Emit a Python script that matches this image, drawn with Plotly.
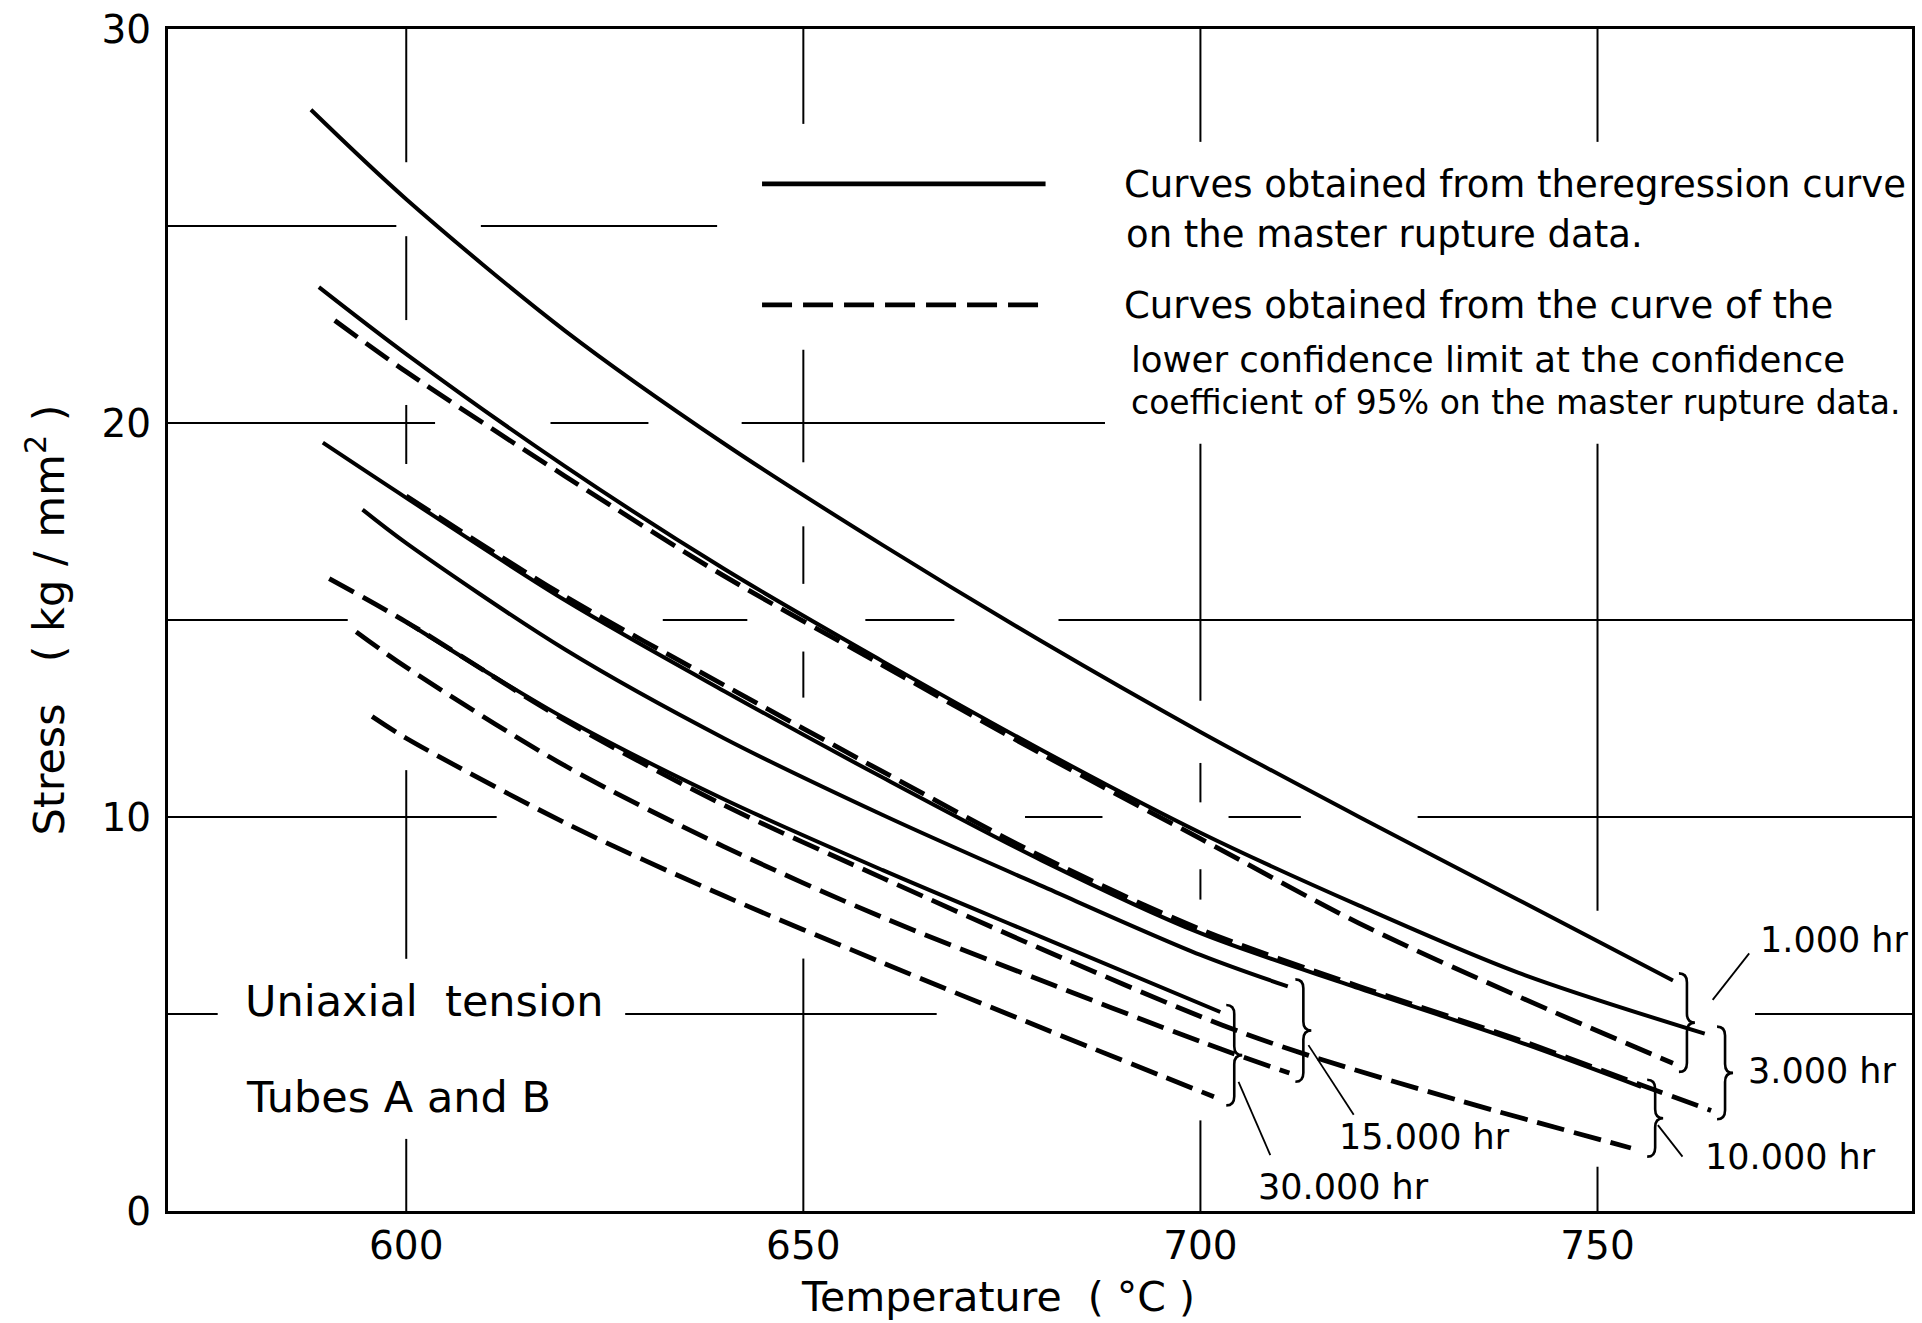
import math
import plotly.graph_objects as go

# Creep-rupture design curves, uniaxial tension, tubes A and B.
# Temperature in degC, stress in kg/mm2.

# Curves from the regression curve on the master rupture data (solid)
T_REG_1000 = [588.0, 600, 620, 640, 660, 680, 700, 720, 740, 759.5]
S_REG_1000 = [27.95, 25.68, 22.34, 19.48, 16.9, 14.46, 12.16, 10.0, 7.9, 5.85]
T_REG_3000 = [589.0, 600, 620, 640, 660, 680, 700, 720, 740, 763.5]
S_REG_3000 = [23.45, 21.75, 18.9, 16.3, 13.95, 11.7, 9.6, 7.75, 6.05, 4.5]
T_REG_10000 = [589.5, 600, 620, 640, 660, 680, 700, 720, 740, 755.5]
S_REG_10000 = [19.5, 18.1, 15.5, 13.2, 11.0, 8.9, 7.05, 5.65, 4.3, 3.15]
T_REG_15000 = [594.5, 600, 620, 640, 660, 680, 700, 711.0]
S_REG_15000 = [17.8, 16.95, 14.25, 12.0, 10.05, 8.25, 6.5, 5.7]
T_REG_30000 = [600.0, 620, 640, 660, 680, 702.5]
S_REG_30000 = [14.95, 12.5, 10.45, 8.65, 6.95, 5.05]

# Curves from the 95 % lower confidence limit (dashed)
T_LCL_1000 = [591.0, 600, 620, 640, 660, 680, 700, 720, 740, 759.5]
S_LCL_1000 = [22.6, 21.3, 18.65, 16.12, 13.85, 11.6, 9.45, 7.3, 5.45, 3.75]
T_LCL_3000 = [600.0, 620, 640, 660, 680, 700, 720, 740, 755.5, 764.3]
S_LCL_3000 = [18.15, 15.6, 13.35, 11.15, 9.0, 7.15, 5.7, 4.35, 3.2, 2.55]
T_LCL_10000 = [590.3, 600, 620, 640, 660, 680, 702.7, 713.6, 733, 754.2]
S_LCL_10000 = [16.05, 14.95, 12.45, 10.3, 8.45, 6.65, 4.72, 3.95, 2.78, 1.6]
T_LCL_15000 = [593.7, 600, 620, 640, 660, 680, 700, 711.2]
S_LCL_15000 = [14.7, 13.8, 11.3, 9.25, 7.45, 5.85, 4.3, 3.5]
T_LCL_30000 = [595.7, 600, 620, 640, 660, 680, 701.7]
S_LCL_30000 = [12.55, 12.0, 9.85, 8.0, 6.3, 4.65, 2.9]

HOUR_LABELS = ["1.000 hr", "3.000 hr", "10.000 hr", "15.000 hr", "30.000 hr"]
X_TICKS = [600, 650, 700, 750]
Y_TICKS = [0, 10, 20, 30]
X_GRID = [600, 650, 700, 750]
Y_GRID = [5, 10, 15, 20, 25]
X_RANGE = [570.0, 789.6]
Y_RANGE = [0.0, 30.0]

X_TITLE = "Temperature\u00a0\u00a0(\u00a0\u00b0C\u00a0)"
Y_TITLE = "Stress\u00a0\u00a0\u00a0(\u00a0kg\u00a0/\u00a0mm<sup>2</sup>\u00a0)"
LEGEND_TEXT = [
    "Curves obtained from theregression curve",
    "on the master rupture data.",
    "Curves obtained from the curve of the",
    "lower confidence limit at the confidence",
    "coefficient of 95% on the master rupture data.",
]
NOTE_TEXT = ["Uniaxial\u00a0\u00a0tension", "Tubes A and B"]

# ---------------------------------------------------------------- geometry
W, H = 1922, 1323
MARGIN = dict(l=168, r=7, t=28, b=112, pad=0)
SX = (W - MARGIN["l"] - MARGIN["r"]) / (X_RANGE[1] - X_RANGE[0])
SY = (H - MARGIN["t"] - MARGIN["b"]) / (Y_RANGE[1] - Y_RANGE[0])


def dx(px):
    return px / SX


def dy(px):
    return px / SY


FONT = "DejaVu Sans, Liberation Sans, Arial, sans-serif"
INK = "black"

# placement of the hand-lettered items (data coordinates)
LEGEND_SAMPLE_X = (644.8, 680.5)
LEGEND_SAMPLE_Y = (26.07, 23.0)
LEGEND_LINE_POS = [(690.1, 26.05, 37), (690.4, 24.78, 37), (690.1, 22.98, 37),
                   (691.0, 21.62, 35.5), (691.0, 20.52, 33)]
NOTE_POS = [(579.4, 5.33, 43), (579.6, 2.9, 43)]
HOUR_LABEL_POS = [(770.2, 6.87), (768.7, 3.55), (763.3, 1.37), (717.2, 1.88), (707.0, 0.61)]
HOUR_LABEL_SIZE = 35
LEADERS = [((764.5, 5.36), (769.1, 6.54)), None, ((757.6, 2.18), (760.7, 1.38)),
           ((713.6, 4.21), (719.3, 2.44)), ((704.8, 3.28), (708.8, 1.42))]

GROUPS = [
    (T_REG_1000, S_REG_1000, T_LCL_1000, S_LCL_1000),
    (T_REG_3000, S_REG_3000, T_LCL_3000, S_LCL_3000),
    (T_REG_10000, S_REG_10000, T_LCL_10000, S_LCL_10000),
    (T_REG_15000, S_REG_15000, T_LCL_15000, S_LCL_15000),
    (T_REG_30000, S_REG_30000, T_LCL_30000, S_LCL_30000),
]

SOLID = dict(color=INK, width=4.0, shape="spline", smoothing=0.9)
DASHED = dict(color=INK, width=4.8, dash="28px,10px", shape="spline", smoothing=0.9)

fig = go.Figure()
for t, s, _, _ in GROUPS:
    fig.add_trace(go.Scatter(x=t, y=s, mode="lines", line=SOLID, hoverinfo="skip",
                             showlegend=False))
for _, _, t, s in GROUPS:
    fig.add_trace(go.Scatter(x=t, y=s, mode="lines", line=DASHED, hoverinfo="skip",
                             showlegend=False))

shapes = []
annotations = []
rects = []          # regions the grid is kept clear of
leader_lines = []


def text_rect(x_left, y_mid, text, size, mx=24, my=18, wf=0.52):
    w = wf * size * len(text)
    h = 0.8 * size
    return (x_left - dx(mx), x_left + dx(w + mx), y_mid - dy(h / 2 + my), y_mid + dy(h / 2 + my))


# ---------------------------------------------------------------- braces, labels
B_GAP, B_HOOK, B_TIP, B_CURL = 14, 8, 8, 9
for (tr, sr, tl, sl), label, (lx, ly), leader in zip(GROUPS, HOUR_LABELS, HOUR_LABEL_POS, LEADERS):
    x0 = max(tr[-1], tl[-1]) + dx(B_GAP)
    ytop = max(sr[-1], sl[-1]) + 0.18
    ybot = min(sr[-1], sl[-1]) - 0.22
    ym = (ytop + ybot) / 2
    a, b, c = dx(B_HOOK), dx(B_TIP), dy(B_CURL)
    path = (f"M {x0 - a},{ytop} Q {x0},{ytop} {x0},{ytop - c} L {x0},{ym + c} "
            f"Q {x0},{ym} {x0 + b},{ym} Q {x0},{ym} {x0},{ym - c} "
            f"L {x0},{ybot + c} Q {x0},{ybot} {x0 - a},{ybot}")
    shapes.append(dict(type="path", xref="x", yref="y", path=path,
                       line=dict(color=INK, width=2.6)))
    brace_box = (x0 - a - dx(22), x0 + b + dx(22), ybot - dy(22), ytop + dy(22))
    label_box = text_rect(lx, ly, label, HOUR_LABEL_SIZE)
    rects += [brace_box, label_box]
    if label_box[3] < brace_box[2] + dy(30):
        # label hangs below its brace: keep the whole cluster clear
        rects.append((brace_box[0], label_box[1], label_box[2], brace_box[3]))
    if leader:
        (xa, ya), (xb, yb) = leader
        shapes.append(dict(type="line", xref="x", yref="y", x0=xa, y0=ya, x1=xb, y1=yb,
                           line=dict(color=INK, width=1.8)))
        leader_lines.append(([xa, xb], [ya, yb], 12))
    annotations.append(dict(x=lx, y=ly, xref="x", yref="y", text=label, showarrow=False,
                            xanchor="left", yanchor="middle",
                            font=dict(family=FONT, size=HOUR_LABEL_SIZE, color=INK)))

# ---------------------------------------------------------------- legend block
for yy, dash in zip(LEGEND_SAMPLE_Y, ["solid", "30px,11px"]):
    shapes.append(dict(type="line", xref="x", yref="y", x0=LEGEND_SAMPLE_X[0], x1=LEGEND_SAMPLE_X[1],
                       y0=yy, y1=yy, line=dict(color=INK, width=4.8, dash=dash)))
rects.append((LEGEND_SAMPLE_X[0] - dx(45), LEGEND_SAMPLE_X[1] + dx(45),
              min(LEGEND_SAMPLE_Y) - dy(45), max(LEGEND_SAMPLE_Y) + dy(60)))
for text, (x, y, size) in zip(LEGEND_TEXT, LEGEND_LINE_POS):
    annotations.append(dict(x=x, y=y, xref="x", yref="y", text=text, showarrow=False,
                            xanchor="left", yanchor="middle",
                            font=dict(family=FONT, size=size, color=INK)))
    rects.append(text_rect(x, y, text, size, my=28))

for text, (x, y, size) in zip(NOTE_TEXT, NOTE_POS):
    annotations.append(dict(x=x, y=y, xref="x", yref="y", text=text, showarrow=False,
                            xanchor="left", yanchor="middle",
                            font=dict(family=FONT, size=size, color=INK)))
    rects.append(text_rect(x, y, text, size, mx=25, my=25, wf=0.49))

# temperature title sits a little left of the plot centre
annotations.append(dict(x=0.4757, y=-0.0727, xref="paper", yref="paper", text=X_TITLE,
                        showarrow=False, xanchor="center", yanchor="middle",
                        font=dict(family=FONT, size=41, color=INK)))

# ---------------------------------------------------------------- broken grid
GAP_PX, END_PX, CAP_PX, MIN_SEG_PX = 27.0, 12.0, 85.0, 20.0
curve_lines = [(t, s, GAP_PX) for t, s, _, _ in GROUPS] + \
              [(t, s, GAP_PX) for _, _, t, s in GROUPS] + leader_lines


def blocked_vertical(xg):
    out = []
    for xs, ys, d in curve_lines:
        for i in range(len(xs) - 1):
            x1, x2, y1, y2 = xs[i], xs[i + 1], ys[i], ys[i + 1]
            if x1 != x2 and min(x1, x2) <= xg <= max(x1, x2):
                yc = y1 + (xg - x1) / (x2 - x1) * (y2 - y1)
                px, py = (x2 - x1) * SX, (y2 - y1) * SY
                h = min(d * math.hypot(px, py) / abs(px), CAP_PX)
                out.append((yc - dy(h), yc + dy(h)))
        for xe, ye in ((xs[0], ys[0]), (xs[-1], ys[-1])):
            dist = abs(xe - xg) * SX
            if dist < END_PX:
                h = math.sqrt(END_PX ** 2 - dist ** 2)
                out.append((ye - dy(h), ye + dy(h)))
    for xa, xb, ya, yb in rects:
        if xa <= xg <= xb:
            out.append((ya, yb))
    return out


def blocked_horizontal(yg):
    out = []
    for xs, ys, d in curve_lines:
        for i in range(len(xs) - 1):
            x1, x2, y1, y2 = xs[i], xs[i + 1], ys[i], ys[i + 1]
            if y1 != y2 and min(y1, y2) <= yg <= max(y1, y2):
                xc = x1 + (yg - y1) / (y2 - y1) * (x2 - x1)
                px, py = (x2 - x1) * SX, (y2 - y1) * SY
                h = min(d * math.hypot(px, py) / abs(py), CAP_PX)
                out.append((xc - dx(h), xc + dx(h)))
        for xe, ye in ((xs[0], ys[0]), (xs[-1], ys[-1])):
            dist = abs(ye - yg) * SY
            if dist < END_PX:
                h = math.sqrt(END_PX ** 2 - dist ** 2)
                out.append((xe - dx(h), xe + dx(h)))
    for xa, xb, ya, yb in rects:
        if ya <= yg <= yb:
            out.append((xa, xb))
    return out


def free_segments(lo, hi, blocked, scale):
    blocked = sorted((max(a, lo), min(b, hi)) for a, b in blocked if b > lo and a < hi)
    segs, cur = [], lo
    for a, b in blocked:
        if a > cur:
            segs.append((cur, a))
        cur = max(cur, b)
    if cur < hi:
        segs.append((cur, hi))
    return [(a, b) for a, b in segs if (b - a) * scale >= MIN_SEG_PX]


GRID_LINE = dict(color=INK, width=2)
for xg in X_GRID:
    for a, b in free_segments(Y_RANGE[0], Y_RANGE[1], blocked_vertical(xg), SY):
        shapes.append(dict(type="line", xref="x", yref="y", x0=xg, x1=xg, y0=a, y1=b,
                           line=GRID_LINE, layer="below"))
for yg in Y_GRID:
    for a, b in free_segments(X_RANGE[0], X_RANGE[1], blocked_horizontal(yg), SX):
        shapes.append(dict(type="line", xref="x", yref="y", x0=a, x1=b, y0=yg, y1=yg,
                           line=GRID_LINE, layer="below"))

# ---------------------------------------------------------------- axes
axis_common = dict(showgrid=False, zeroline=False, showline=True, linewidth=3,
                   linecolor=INK, mirror=True, ticks="", tickmode="array",
                   tickfont=dict(family=FONT, size=39, color=INK))
fig.update_layout(
    width=W, height=H, margin=MARGIN,
    paper_bgcolor="white", plot_bgcolor="white",
    xaxis=dict(range=X_RANGE, tickvals=X_TICKS, ticklabelstandoff=-2, **axis_common),
    yaxis=dict(range=Y_RANGE, tickvals=Y_TICKS, ticklabelstandoff=6,
               title=dict(text=Y_TITLE, standoff=24,
                          font=dict(family=FONT, size=43, color=INK)),
               **axis_common),
    shapes=shapes, annotations=annotations, showlegend=False,
)

fig.write_html("out.html")
